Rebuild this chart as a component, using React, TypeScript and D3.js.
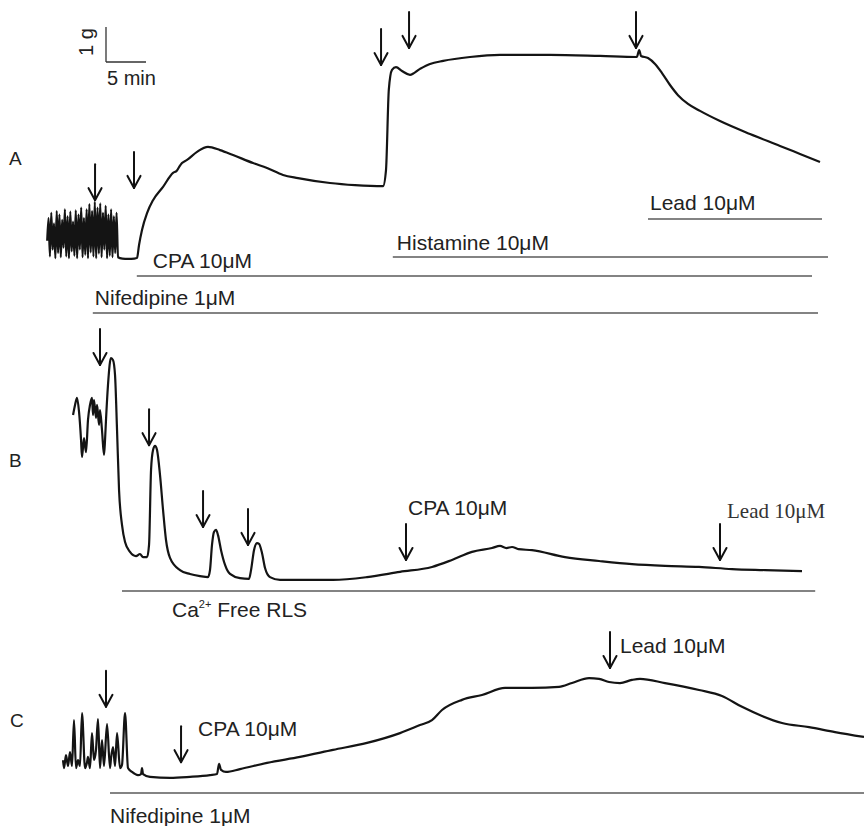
import React from "react";
import * as d3 from "d3";

// ---------- DATA (time in minutes, tension in g) ----------
const traceA: [number, number][] = [
  [5.9, 0.55], [6.07, 1.2], [6.24, 0.1], [6.41, 1.35], [6.58, 0.3], [6.75, 1.05], [6.92, 0.05], [7.09, 1.4],
  [7.26, 0.2], [7.43, 1.3], [7.6, 0.08], [7.77, 1.15], [7.94, 0.35], [8.11, 1.45], [8.28, 0.1], [8.45, 1.25],
  [8.62, 0.05], [8.79, 1.38], [8.96, 0.25], [9.13, 1.1], [9.3, 0.12], [9.47, 1.42], [9.64, 0.05], [9.81, 1.3],
  [9.98, 0.3], [10.15, 1.5], [10.32, 0.08], [10.49, 1.2], [10.66, 0.15], [10.83, 1.45], [11.0, 0.05], [11.17, 1.6],
  [11.34, 0.22], [11.51, 1.4], [11.68, 0.1], [11.85, 1.66], [12.02, 0.05], [12.19, 1.5], [12.36, 0.18], [12.53, 1.62],
  [12.7, 0.08], [12.87, 1.35], [13.04, 0.3], [13.21, 1.55], [13.38, 0.05], [13.55, 1.3], [13.72, 0.12], [13.89, 1.45],
  [14.06, 0.08], [14.23, 1.25], [14.4, 0.2], [14.57, 1.35], [14.75, 0.08], [15.3, 0.04], [16.0, 0.03], [16.8, 0.04],
  [17.13, 0.06], [17.38, 0.43], [17.75, 0.86], [18.38, 1.34], [19.13, 1.71], [20.38, 2.09], [21.63, 2.49], [22.1, 2.55],
  [22.4, 2.66], [22.75, 2.77], [23.38, 2.86], [24.63, 3.09], [26.0, 3.23], [27.5, 3.14], [29.13, 3.0], [31.63, 2.77],
  [33.38, 2.63], [35.38, 2.43], [37.25, 2.34], [41.25, 2.2], [44.38, 2.14], [47.88, 2.11], [48.25, 2.57], [48.6, 4.86],
  [49.0, 5.43], [49.5, 5.51], [50.25, 5.4], [51.25, 5.29], [52.5, 5.46], [53.75, 5.6], [55.4, 5.69], [58.75, 5.8],
  [62.5, 5.86], [68.75, 5.86], [75.0, 5.83], [79.6, 5.8], [79.9, 6.0], [80.13, 5.83], [81.0, 5.77], [81.88, 5.6],
  [82.75, 5.34], [83.75, 5.0], [84.75, 4.71], [86.0, 4.46], [87.5, 4.26], [90.0, 3.97], [93.75, 3.6], [97.5, 3.26],
  [100.0, 3.03], [102.5, 2.8],
];

const traceB: [number, number][] = [
  [9.13, 4.77], [9.38, 5.06], [9.63, 5.26], [9.88, 4.86], [10.13, 4.06], [10.25, 3.57], [10.5, 4.11], [10.75, 3.71],
  [11.0, 4.63], [11.25, 5.06], [11.5, 5.26], [11.63, 4.77], [11.75, 5.2], [12.0, 4.69], [12.13, 5.06], [12.38, 4.49],
  [12.5, 4.91], [12.75, 4.34], [13.0, 3.63], [13.13, 4.06], [13.25, 4.63], [13.5, 5.63], [13.75, 6.29], [13.88, 6.4],
  [14.13, 6.34], [14.38, 5.91], [14.63, 4.34], [14.88, 2.63], [15.25, 1.63], [15.63, 1.14], [16.25, 0.86], [17.0, 0.74],
  [17.5, 0.8], [17.88, 0.71], [18.38, 0.71], [18.63, 1.06], [18.88, 3.2], [19.13, 3.77], [19.38, 3.89], [19.63, 3.77],
  [20.0, 3.06], [20.38, 2.06], [20.75, 1.2], [21.25, 0.69], [22.5, 0.34], [23.75, 0.23], [25.0, 0.17], [26.0, 0.14],
  [26.25, 0.34], [26.5, 1.06], [26.75, 1.43], [27.0, 1.49], [27.25, 1.34], [27.63, 0.91], [28.13, 0.49], [28.75, 0.23],
  [30.0, 0.11], [31.13, 0.09], [31.38, 0.34], [31.75, 0.91], [32.13, 1.11], [32.38, 1.09], [32.75, 0.83], [33.13, 0.4],
  [33.75, 0.14], [35.0, 0.06], [37.5, 0.06], [41.63, 0.06], [45.88, 0.14], [50.0, 0.29], [54.0, 0.43], [56.5, 0.63],
  [59.0, 0.86], [61.5, 0.97], [62.5, 1.03], [63.3, 0.97], [64.0, 1.0], [64.8, 0.94], [66.5, 0.91], [70.63, 0.71],
  [74.88, 0.6], [79.0, 0.51], [83.13, 0.46], [87.38, 0.43], [91.5, 0.37], [95.63, 0.34], [100.25, 0.31],
];

const traceC: [number, number][] = [
  [7.88, 0.57], [8.0, 0.34], [8.25, 0.71], [8.5, 0.4], [8.75, 0.8], [9.0, 0.4], [9.25, 1.71], [9.5, 0.34],
  [9.75, 0.57], [10.0, 0.4], [10.25, 1.91], [10.63, 0.34], [10.88, 0.51], [11.0, 0.66], [11.25, 0.34], [11.5, 1.34],
  [11.75, 0.57], [12.0, 0.86], [12.25, 1.74], [12.5, 0.34], [12.75, 1.14], [13.0, 0.4], [13.38, 1.6], [13.75, 0.34],
  [13.88, 0.63], [14.13, 0.94], [14.38, 0.4], [14.63, 1.34], [15.0, 0.34], [15.25, 0.43], [15.63, 1.91], [16.0, 0.34],
  [16.5, 0.23], [17.25, 0.14], [17.63, 0.17], [17.75, 0.34], [17.88, 0.17], [18.75, 0.09], [21.25, 0.06], [23.75, 0.09],
  [26.25, 0.14], [27.13, 0.17], [27.38, 0.46], [27.63, 0.29], [28.25, 0.23], [30.0, 0.31], [33.38, 0.49], [37.5, 0.66],
  [41.63, 0.86], [45.88, 1.06], [50.0, 1.34], [52.5, 1.57], [54.0, 1.71], [55.25, 2.0], [57.75, 2.29], [60.25, 2.43],
  [63.13, 2.63], [66.5, 2.63], [69.88, 2.66], [71.5, 2.77], [73.63, 2.91], [74.88, 2.89], [76.13, 2.8], [77.5, 2.77],
  [79.0, 2.86], [80.0, 2.89], [83.13, 2.77], [87.38, 2.57], [90.25, 2.4], [92.75, 2.09], [95.25, 1.83], [97.75, 1.63],
  [101.13, 1.51], [104.38, 1.37], [108.0, 1.23],
];

// arrows: time of addition (min) and tension at arrow tip (g)
const arrowsA = [
  { t: 11.88, g: 1.71 }, { t: 16.75, g: 2.06 }, { t: 47.63, g: 5.57 }, { t: 51.13, g: 6.06 }, { t: 79.5, g: 6.06 },
];
const arrowsB = [
  { t: 12.5, g: 6.2 }, { t: 18.63, g: 3.91 }, { t: 25.38, g: 1.57 }, { t: 31.0, g: 1.06 }, { t: 50.75, g: 0.63 }, { t: 90.0, g: 0.63 },
];
const arrowsC = [{ t: 13.25, g: 2.09 }, { t: 22.63, g: 0.51 }, { t: 76.25, g: 3.2 }];

// treatments: label and exposure period (min)
const treatmentsA = [
  { label: "Lead 10μM", start: 81.0, end: 102.75 },
  { label: "Histamine 10μM", start: 49.1, end: 103.5 },
  { label: "CPA 10μM", start: 17.1, end: 101.5 },
  { label: "Nifedipine 1μM", start: 11.6, end: 102.25 },
];
const treatmentsB = [{ label: "Free RLS", start: 15.25, end: 101.9 }];
const treatmentsC = [{ label: "Nifedipine 1μM", start: 13.75, end: 108 }];

const scaleBar = { grams: 1, minutes: 5, gLabel: "1 g", tLabel: "5 min" };

// ---------- LAYOUT ----------
const W = 864;
const H = 826;
const PX_PER_G = 35;
const x = d3.scaleLinear().domain([0, 108]).range([0, W]);
const yFor = (base: number) => d3.scaleLinear().domain([0, 1]).range([base, base - PX_PER_G]);
const yA = yFor(260);
const yB = yFor(582);
const yC = yFor(780);
const ySB = yFor(62);

const SANS = "'Liberation Sans', Arial, Helvetica, sans-serif";
const SERIF = "'Liberation Serif', 'Times New Roman', serif";
const BAR = "#5a5a5a";
const FS = 21;

function Arrow({ cx, tip }: { cx: number; tip: number }) {
  return (
    <g stroke="#111" strokeWidth={2} fill="none" strokeLinecap="round" strokeLinejoin="round">
      <line x1={cx} x2={cx} y1={tip - 36} y2={tip} />
      <path d={`M${cx - 6.5},${tip - 12} L${cx},${tip} L${cx + 6.5},${tip - 12}`} />
    </g>
  );
}

function Trace({ data, y }: { data: [number, number][]; y: d3.ScaleLinear<number, number> }) {
  const gen = d3
    .line<[number, number]>()
    .x((d) => x(d[0]))
    .y((d) => y(d[1]))
    .curve(d3.curveMonotoneX);
  return <path d={gen(data) || ""} fill="none" stroke="#141414" strokeWidth={2.2} strokeLinejoin="round" />;
}

export default function App() {
  const rowsA = [219, 257, 276, 313];
  const labA = [
    { dx: 2, dy: -9 },
    { dx: 4, dy: -7 },
    { dx: 16, dy: -8 },
    { dx: 2, dy: -8 },
  ];
  return (
    <svg
      width={W}
      height={H}
      viewBox={`0 0 ${W} ${H}`}
      style={{ position: "absolute", left: 0, top: 0, background: "#fff", display: "block" }}
      fontFamily={SANS}
    >
      <rect width={W} height={H} fill="#fff" />
      {/* scale bar */}
      <g stroke="#333" strokeWidth={1.3} fill="none">
        <line x1={x(13.25)} x2={x(13.25)} y1={ySB(0)} y2={ySB(scaleBar.grams)} />
        <line x1={x(13.25)} x2={x(13.25 + scaleBar.minutes)} y1={ySB(0)} y2={ySB(0)} />
      </g>
      <text x={x(13.25) + 1} y={85} fontSize={20} fill="#222">{scaleBar.tLabel}</text>
      <text transform={`translate(${x(13.25) - 13},${42}) rotate(-90)`} fontSize={20} fill="#222" textAnchor="middle">
        {scaleBar.gLabel}
      </text>

      {/* panel labels */}
      <text x={9} y={165} fontSize={19} fill="#222">A</text>
      <text x={9} y={467} fontSize={19} fill="#222">B</text>
      <text x={10} y={727} fontSize={19} fill="#222">C</text>

      {/* Panel A */}
      <Trace data={traceA} y={yA} />
      {arrowsA.map((a, i) => (
        <Arrow key={"aa" + i} cx={x(a.t)} tip={yA(a.g)} />
      ))}
      {treatmentsA.map((t, i) => (
        <g key={"ta" + i}>
          <line x1={x(t.start)} x2={x(t.end)} y1={rowsA[i]} y2={rowsA[i]} stroke={BAR} strokeWidth={1.6} />
          <text x={x(t.start) + labA[i].dx} y={rowsA[i] + labA[i].dy} fontSize={FS} fill="#222">{t.label}</text>
        </g>
      ))}

      {/* Panel B */}
      <Trace data={traceB} y={yB} />
      {arrowsB.map((a, i) => (
        <Arrow key={"ab" + i} cx={x(a.t)} tip={yB(a.g)} />
      ))}
      <text x={x(arrowsB[4].t) + 2} y={515} fontSize={FS} fill="#222">CPA 10μM</text>
      <text x={x(arrowsB[5].t) + 7} y={518} fontSize={21} fill="#333" fontFamily={SERIF}>Lead 10μM</text>
      {treatmentsB.map((t, i) => (
        <g key={"tb" + i}>
          <line x1={x(t.start)} x2={x(t.end)} y1={591} y2={591} stroke={BAR} strokeWidth={1.6} />
          <text x={x(t.start) + 50} y={617} fontSize={FS} fill="#222">
            Ca<tspan fontSize={11} dy={-9}>2+</tspan>
            <tspan dy={9}> {t.label}</tspan>
          </text>
        </g>
      ))}

      {/* Panel C */}
      <Trace data={traceC} y={yC} />
      {arrowsC.map((a, i) => (
        <Arrow key={"ac" + i} cx={x(a.t)} tip={yC(a.g)} />
      ))}
      <text x={x(arrowsC[1].t) + 17} y={736} fontSize={FS} fill="#222">CPA 10μM</text>
      <text x={x(arrowsC[2].t) + 10} y={653} fontSize={FS} fill="#222">Lead 10μM</text>
      {treatmentsC.map((t, i) => (
        <g key={"tc" + i}>
          <line x1={x(t.start)} x2={x(t.end)} y1={793} y2={793} stroke={BAR} strokeWidth={1.6} />
          <text x={x(t.start)} y={823} fontSize={FS} fill="#222">{t.label}</text>
        </g>
      ))}
    </svg>
  );
}
